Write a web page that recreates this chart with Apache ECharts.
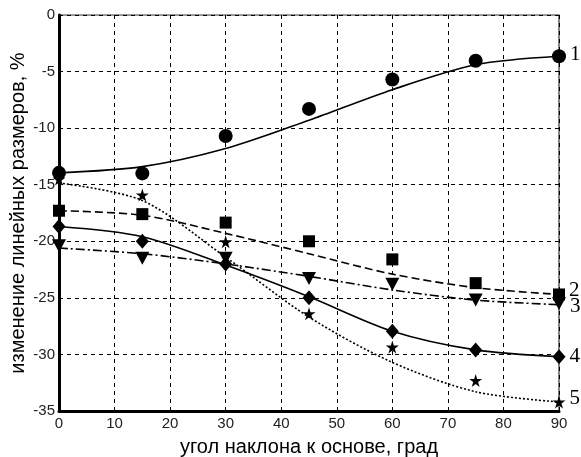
<!DOCTYPE html>
<html>
<head>
<meta charset="utf-8">
<script src="https://cdn.jsdelivr.net/npm/echarts@6/dist/echarts.min.js"></script>
<style>
  html, body { margin: 0; padding: 0; background: #fff; }
  #chart { width: 581px; height: 457px; }
</style>
</head>
<body>
<div id="chart"></div>
<script>
// угол наклона, град
const angles = [0, 15, 30, 45, 60, 75, 90];

// экспериментальные точки (маркеры)
const pts1 = [-13.95, -14.0, -10.7, -8.3, -5.7, -4.05, -3.65];
const pts2 = [-17.3, -17.6, -18.35, -20.0, -21.6, -23.7, -24.7];
const pts3 = [-20.4, -21.5, -21.5, -23.3, -23.8, -25.2, -25.5];
const pts4 = [-18.7, -20.0, -22.0, -25.0, -27.95, -29.6, -30.2];
const pts5 = [-14.5, -15.9, -20.05, -26.4, -29.35, -32.3, -34.2];

// аппроксимирующие кривые
const fit1 = [-13.95, -13.4, -11.8, -9.3, -6.6, -4.4, -3.65];
const fit2 = [-17.3, -17.7, -19.3, -21.1, -22.9, -24.1, -24.7];
const fit3 = [-20.6, -21.1, -22.0, -23.1, -24.3, -25.2, -25.6];
const fit4 = [-18.7, -19.6, -22.1, -24.9, -27.95, -29.6, -30.2];
const fit5 = [-14.85, -16.4, -21.4, -26.7, -30.7, -33.3, -34.2];

const curveNames = ['1', '2', '3', '4', '5'];
const yTicks = [0, -5, -10, -15, -20, -25, -30, -35];

const pts = [pts1, pts2, pts3, pts4, pts5];
const fits = [fit1, fit2, fit3, fit4, fit5];

const STAR = 'path://M50,0 L61,35 L98,35 L68,57 L79,91 L50,70 L21,91 L32,57 L2,35 L39,35 Z';
const symbols = ['circle', 'rect', 'triangle', 'diamond', STAR];
const symbolSizes = [14, 12, [14, 13], [13, 15], 13];
const symbolRotates = [0, 0, 180, 0, 0];
const lineTypes = ['solid', [8, 4], [9, 3, 2, 3], 'solid', [2, 2]];
const labelOffsets = [[0, -2], [0, -4], [0, 3], [0, 0], [0, -3]];

const pair = (arr) => arr.map((v, i) => [angles[i], v]);

const series = [];
fits.forEach((f, k) => {
  series.push({
    type: 'line',
    data: pair(f),
    smooth: 0.3,
    symbol: 'none',
    silent: true,
    lineStyle: { color: '#000', width: 1.6, type: lineTypes[k] },
    z: 2,
  });
});
pts.forEach((p, k) => {
  const data = pair(p).map((d, i) => {
    if (i !== p.length - 1) return d;
    return {
      value: d,
      label: {
        show: true,
        position: 'right',
        distance: 4,
        offset: labelOffsets[k],
        formatter: curveNames[k],
        fontFamily: 'Liberation Serif',
        fontSize: 21,
        color: '#000',
      },
    };
  });
  series.push({
    type: 'scatter',
    data: data,
    symbol: symbols[k],
    symbolSize: symbolSizes[k],
    symbolRotate: symbolRotates[k],
    itemStyle: { color: '#000', opacity: 1 },
    z: 3,
  });
});

const chart = echarts.init(document.getElementById('chart'), null, { renderer: 'canvas' });
chart.setOption({
  animation: false,
  backgroundColor: '#fff',
  grid: {
    left: 59, right: 22, top: 15, bottom: 46,
    outerBoundsMode: 'none', containLabel: false,
    show: true, borderColor: '#333', borderWidth: 1.2,
  },
  xAxis: {
    type: 'value', min: 0, max: 90, interval: 10,
    name: 'угол наклона к основе, град',
    nameLocation: 'middle', nameGap: 26, nameMoveOverlap: false,
    nameTextStyle: { fontFamily: 'Liberation Sans', fontSize: 20, color: '#000' },
    axisLine: { show: true, onZero: false, lineStyle: { color: '#000', width: 3 } },
    axisTick: { show: false },
    axisLabel: { fontFamily: 'Liberation Sans', fontSize: 15, color: '#222', margin: 5 },
    splitLine: { show: true, lineStyle: { color: '#000', type: [4, 4], width: 1 } },
  },
  yAxis: {
    type: 'value', min: -35, max: 0, interval: 5,
    name: 'изменение линейных размеров, %',
    nameLocation: 'middle', nameGap: 31, nameMoveOverlap: false,
    nameTextStyle: { fontFamily: 'Liberation Sans', fontSize: 20, color: '#000' },
    axisLine: { show: true, onZero: false, lineStyle: { color: '#000', width: 3 } },
    axisTick: { show: false },
    axisLabel: {
      fontFamily: 'Liberation Sans', fontSize: 15, color: '#222', margin: 4,
      formatter: (v) => yTicks.includes(v) ? String(v) : '',
    },
    splitLine: { show: true, lineStyle: { color: '#000', type: [4, 4], width: 1 } },
  },
  series: series,
});
</script>
</body>
</html>
